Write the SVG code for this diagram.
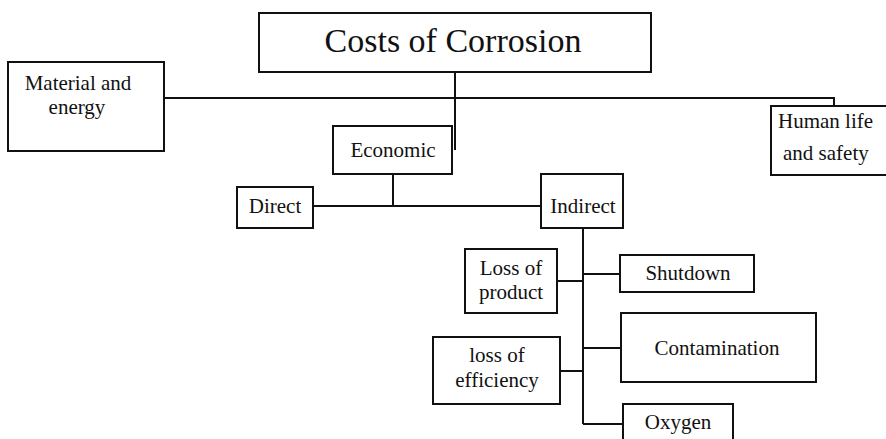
<svg xmlns="http://www.w3.org/2000/svg" width="886" height="439" viewBox="0 0 886 439">
<style>
.box{fill:#fff;stroke:#111;stroke-width:2}
.ln{fill:none;stroke:#111;stroke-width:2}
.t{font-size:21px;fill:#111;text-anchor:middle}
</style>
<rect width="886" height="439" fill="#fff"/>
<g id="connectors">
<path class="ln" d="M164 98 H834 V106"/>
<path class="ln" d="M455 72 V150" stroke-width="2.5"/>
<path class="ln" d="M393 174 V206 M313 206 H541"/>
<path class="ln" d="M583 228 V424"/>
<path class="ln" d="M557 281 H583 M583 274 H620 M560 371 H583 M583 348 H621 M583 424 H623"/>
</g>
<g font-family="Liberation Serif, DejaVu Serif, serif">
<g id="title"><rect class="box" x="259" y="13" width="392" height="59"/><text class="t" x="453" y="52" style="font-size:34px">Costs of Corrosion</text></g>
<g id="material"><rect class="box" x="8" y="62" width="156" height="89"/><text class="t" x="78" y="90">Material and</text><text class="t" x="77" y="114">energy</text></g>
<g id="human"><rect class="box" x="771" y="106" width="130" height="69"/><text class="t" x="778" y="128" style="text-anchor:start">Human life</text><text class="t" x="783" y="160" style="text-anchor:start">and safety</text></g>
<g id="economic"><rect class="box" x="333" y="126" width="119" height="48"/><text class="t" x="393" y="157">Economic</text></g>
<g id="direct"><rect class="box" x="237" y="187" width="76" height="41"/><text class="t" x="275" y="213">Direct</text></g>
<g id="indirect"><rect class="box" x="541" y="174" width="82" height="54"/><text class="t" x="583" y="213">Indirect</text></g>
<g id="lossproduct"><rect class="box" x="465" y="249" width="92" height="64"/><text class="t" x="511" y="275">Loss of</text><text class="t" x="511" y="299">product</text></g>
<g id="shutdown"><rect class="box" x="620" y="255" width="134" height="37"/><text class="t" x="688" y="280">Shutdown</text></g>
<g id="contamination"><rect class="box" x="621" y="313" width="195" height="69"/><text class="t" x="717" y="355">Contamination</text></g>
<g id="lossefficiency"><rect class="box" x="433" y="337" width="127" height="67"/><text class="t" x="497" y="362">loss of</text><text class="t" x="497" y="387">efficiency</text></g>
<g id="oxygen"><rect class="box" x="623" y="404" width="110" height="45"/><text class="t" x="678" y="429">Oxygen</text></g>
</g>
</svg>
